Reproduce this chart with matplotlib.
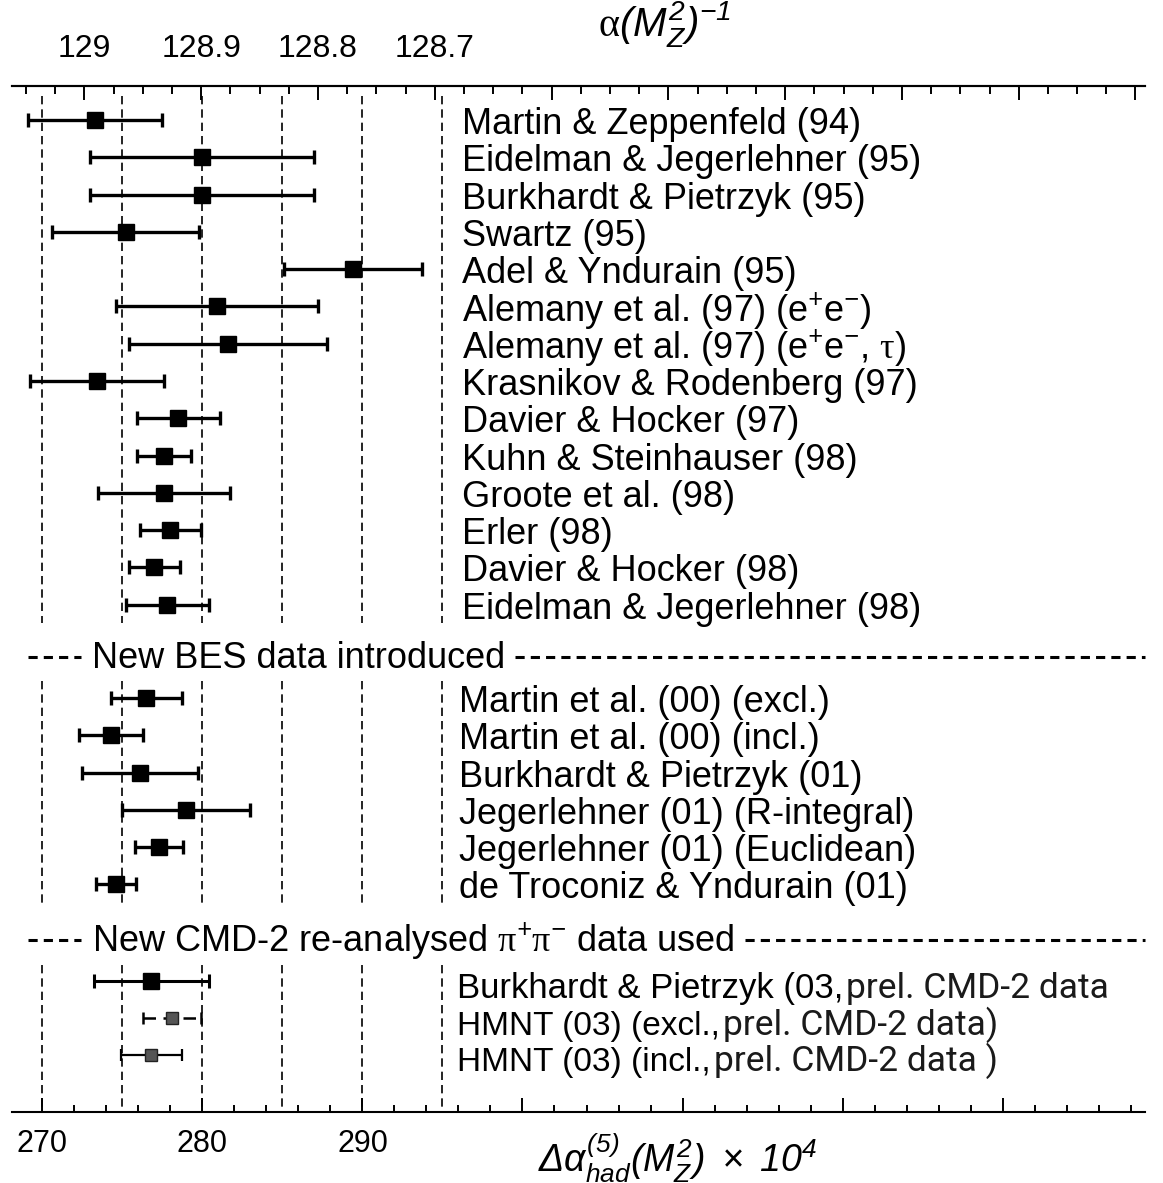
import numpy as np
import matplotlib
import matplotlib.pyplot as plt
from matplotlib.ticker import MultipleLocator, FixedLocator

plt.rcParams['font.family'] = ['Liberation Sans', 'DejaVu Sans']
plt.rcParams['mathtext.fontset'] = 'custom'
plt.rcParams['mathtext.rm'] = 'Liberation Sans:italic'
plt.rcParams['mathtext.it'] = 'Liberation Sans:italic'
plt.rcParams['mathtext.bf'] = 'Liberation Sans:bold'
plt.rcParams['mathtext.sf'] = 'Liberation Serif'   # used for upright greek

# ---- data (Delta alpha_had^(5)(M_Z^2) x 10^4) ----
labels_old = ['Martin & Zeppenfeld (94)', 'Eidelman & Jegerlehner (95)',
              'Burkhardt & Pietrzyk (95)', 'Swartz (95)', 'Adel & Yndurain (95)',
              r'Alemany et al. (97) (e$^{+}$e$^{-}$)',
              r'Alemany et al. (97) (e$^{+}$e$^{-}$, $\mathsf{\tau}$)',
              'Krasnikov & Rodenberg (97)', 'Davier & Hocker (97)',
              'Kuhn & Steinhauser (98)', 'Groote et al. (98)', 'Erler (98)',
              'Davier & Hocker (98)', 'Eidelman & Jegerlehner (98)']
val_old = [273.3, 280.0, 280.0, 275.2, 289.4, 280.9, 281.6, 273.4,
           278.5, 277.6, 277.6, 278.0, 277.0, 277.8]
err_old = [4.2, 7.0, 7.0, 4.6, 4.3, 6.3, 6.2, 4.2, 2.6, 1.7, 4.1, 1.9, 1.6, 2.6]

labels_bes = ['Martin et al. (00) (excl.)', 'Martin et al. (00) (incl.)',
              'Burkhardt & Pietrzyk (01)', 'Jegerlehner (01) (R-integral)',
              'Jegerlehner (01) (Euclidean)', 'de Troconiz & Yndurain (01)']
val_bes = [276.5, 274.3, 276.1, 279.0, 277.3, 274.6]
err_bes = [2.2, 2.0, 3.65, 4.0, 1.5, 1.25]

labels_cmd = ['Burkhardt & Pietrzyk (03,', 'HMNT (03) (excl.,', 'HMNT (03) (incl.,']
notes_cmd = ['prel. CMD-2 data', 'prel. CMD-2 data)', 'prel. CMD-2 data )']
val_cmd = [276.8, 278.1, 276.8]
err_cmd = [3.6, 1.8, 1.9]

sep_texts = ['New BES data introduced',
             r'New CMD-2 re-analysed $\mathsf{\pi}^{+}\mathsf{\pi}^{-}$ data used']
vlines = [270, 275, 280, 285, 290, 295]

# alpha^-1(M_Z^2) = A - B * Delta
A = 132.736
B = 137.036e-4

# ---- layout in row units ----
rows_old = np.arange(len(val_old))
rows_bes = 15.5 + np.arange(len(val_bes))
rows_cmd = 23.1 + np.arange(len(val_cmd)) * 0.98
sep_rows = [14.4, 21.98]

fig = plt.figure(figsize=(11.63, 11.83), dpi=100)
ax = fig.add_axes([12 / 1163, 71 / 1183, 1133 / 1163, 1026 / 1183])
ax.set_xlim(268.1, 338.9)
ax.set_ylim(26.6, -0.91)

# dashed reference lines, interrupted at the separators
segments = [(-0.65, 13.5), (15.05, 21.0), (22.65, 26.6)]
for x in vlines:
    for y0, y1 in segments:
        ax.plot([x, x], [y0, y1], color='black', lw=1.2, ls=(0, (5, 3)))

def draw_block(vals, errs, rows, lw, cs, ms):
    for v, e, r in zip(vals, errs, rows):
        ax.errorbar(v, r, xerr=e, fmt='s', color='black', ms=ms, mfc='black',
                    elinewidth=lw, capsize=cs, capthick=lw)

draw_block(val_old, err_old, rows_old, 2.4, 5, 11)
draw_block(val_bes, err_bes, rows_bes, 2.4, 5, 11)

# last block: first normal, HMNT with grey markers
ax.errorbar(val_cmd[0], rows_cmd[0], xerr=err_cmd[0], fmt='s', color='black',
            ms=11, elinewidth=2.2, capsize=5, capthick=2.2)
eb = ax.errorbar(val_cmd[1], rows_cmd[1], xerr=err_cmd[1], fmt='s', color='black',
                 ms=9, mfc='#555555', mec='#222222', elinewidth=1.8, capsize=4, capthick=1.8)
eb[2][0].set_linestyle((0, (5, 3)))
ax.errorbar(val_cmd[2], rows_cmd[2], xerr=err_cmd[2], fmt='s', color='black',
            ms=9, mfc='#555555', mec='#222222', elinewidth=1.6, capsize=4, capthick=1.6)

fs = 26
for lab, r in zip(labels_old, rows_old):
    ax.text(296.25, r + 0.12, lab, fontsize=fs, va='center', ha='left')
for lab, r in zip(labels_bes, rows_bes):
    ax.text(296.05, r + 0.12, lab, fontsize=fs, va='center', ha='left')
main_txt = []
for lab, r, s in zip(labels_cmd, rows_cmd, [25, 24, 24]):
    t = ax.text(295.9, r + 0.45, lab, fontsize=s, va='baseline', ha='left')
    main_txt.append(t)

sep_txt = []
for s, r in zip(sep_texts, sep_rows):
    ax.plot([269.1, 272.4], [r, r], color='black', lw=2.2, ls=(0, (3, 2)))
    t = ax.text(273.1, r + 0.05, s, fontsize=fs, va='center', ha='left')
    sep_txt.append(t)

# axes styling
for sp in ['left', 'right']:
    ax.spines[sp].set_visible(False)
ax.spines['bottom'].set_linewidth(1.5)
ax.spines['top'].set_linewidth(1.5)
ax.set_yticks([])
ax.xaxis.set_major_locator(FixedLocator(np.arange(270, 340, 10)))
ax.xaxis.set_minor_locator(MultipleLocator(2))
ax.set_xticklabels(['270', '280', '290'] + [''] * 4)
ax.tick_params(axis='x', which='major', direction='in', length=10, width=1.4,
               labelsize=22, pad=12, top=False)
ax.tick_params(axis='x', which='minor', direction='in', length=5, width=1.4, top=False)

sec = ax.secondary_xaxis('top', functions=(lambda d: A - B * d, lambda a: (A - a) / B))
sec.xaxis.set_major_locator(FixedLocator(np.round(np.arange(129.0, 128.05, -0.1), 2)))
sec.xaxis.set_minor_locator(MultipleLocator(0.025))
sec.set_xticklabels(['129', '128.9', '128.8', '128.7'] + [''] * 6)
sec.tick_params(axis='x', which='major', direction='in', length=10, width=1.4,
                labelsize=23, pad=16)
sec.tick_params(axis='x', which='minor', direction='in', length=6, width=1.4)
sec.spines['top'].set_linewidth(1.5)

fig.text(664 / 1163, 1 - 24 / 1183, r'$\mathsf{\alpha}(M_Z^2)^{-1}$',
         fontsize=29, ha='center', va='center')
fig.text(678 / 1163, 1 - 1158 / 1183,
         r'$\Delta\alpha^{(5)}_{had}(M_Z^2)\ \times\ 10^4$',
         fontsize=27, ha='center', va='center')

# pieces that depend on text extents
fig.canvas.draw()
inv = ax.transData.inverted()
for t, r in zip(sep_txt, sep_rows):
    bb = t.get_window_extent()
    x_end = inv.transform((bb.x1 + 10, 0))[0]
    ax.plot([x_end, 338.9], [r, r], color='black', lw=2.2, ls=(0, (3, 2)), clip_on=False)
for t, note, r in zip(main_txt, notes_cmd, rows_cmd):
    bb = t.get_window_extent()
    x_end = inv.transform((bb.x1 + 3, 0))[0]
    ax.text(x_end, r + 0.45, note, fontsize=25.5, va='baseline', ha='left',
            family=['Roboto', 'Liberation Sans'], color='#1a1a1a')

fig.savefig('out.png', dpi=100)
